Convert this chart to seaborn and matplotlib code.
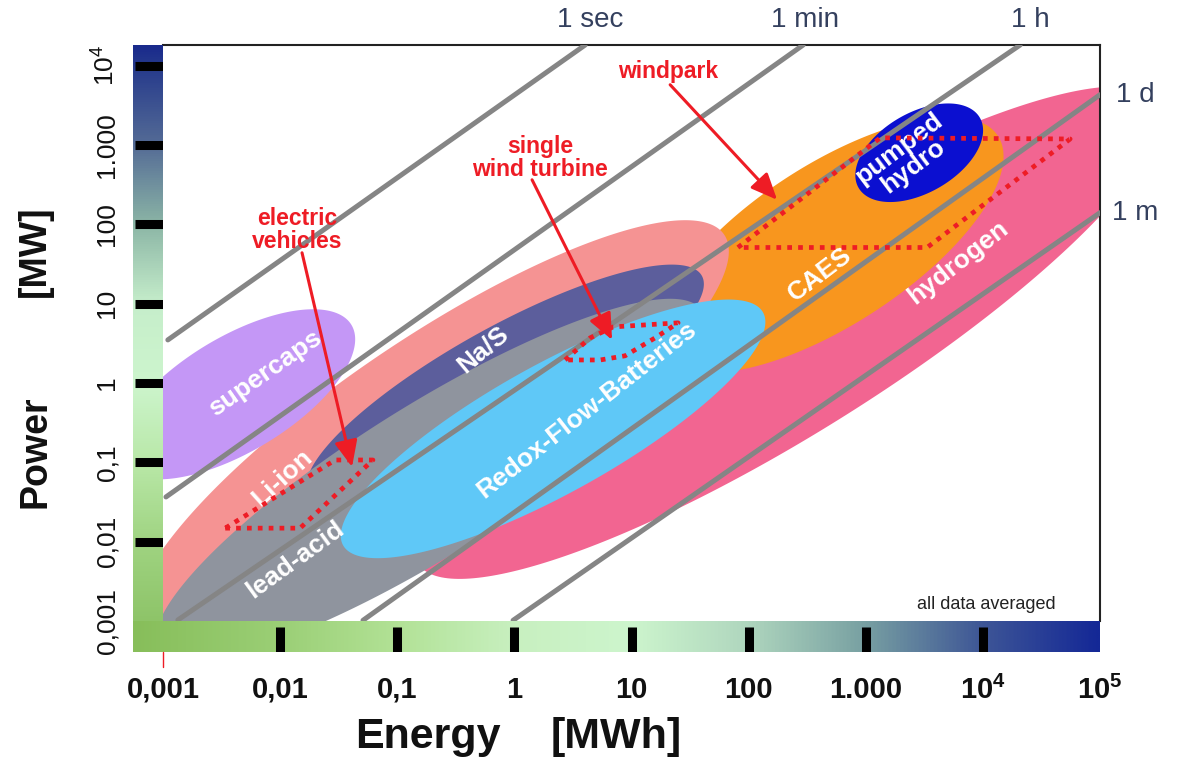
import numpy as np
import matplotlib
matplotlib.use('Agg')
import matplotlib.pyplot as plt
from matplotlib.colors import LinearSegmentedColormap
from matplotlib.lines import Line2D
import seaborn as sns

# storage technologies: centre of each region (energy MWh, power MW),
# half length / half width of the region in decades, tilt in degrees
tech_names = ['hydrogen', 'CAES', 'Li-ion', 'Na/S', 'lead-acid',
              'Redox-Flow-Batteries', 'pumped\nhydro', 'supercaps']
tech_energy = [215, 497, 0.198, 0.833, 0.19, 2.14, 2860, 0.0042]
tech_power = [4.3, 55, 0.242, 0.946, 0.06, 0.264, 798, 0.72]
tech_length = [3.72, 1.708, 3.01, 1.921, 2.733, 2.05, 0.598, 1.15]
tech_width = [0.86, 0.683, 0.794, 0.495, 0.64, 0.55, 0.342, 0.49]
tech_tilt = [32, 33, 34, 29, 32, 29, 30, 31]
tech_colors = ['#f26591', '#f8961e', '#f59393', '#5c5e9c', '#8f949e',
               '#5fc8f7', '#0b0fd0', '#c497f6']

# discharge time lines (start / end in MWh, MW)
time_labels = ['1 sec', '1 min', '1 h', '1 d', '1 m']
line_e_start = [0.0011, 0.00106, 0.00134, 0.051, 0.975]
line_p_start = [3.49, 0.0366, 0.00103, 0.00102, 0.00102]
line_e_end = [4.02, 292, 20800, 1e5, 1e5]
line_p_end = [18200, 18200, 18200, 4300, 140]

# application ranges (dotted outlines)
ev_energy = [0.0034, 0.0148, 0.062, 0.0295]
ev_power = [0.0148, 0.0148, 0.107, 0.107]
turbine_energy = [2.71, 4.43, 6.97, 25.0, 15.9, 8.81, 5.40]
turbine_power = [1.95, 3.70, 5.09, 5.73, 3.70, 2.20, 1.95]
windpark_energy = [81, 1330, 55600, 3340]
windpark_power = [51, 1230, 1190, 51]

x_ticklabels = ['0,001', '0,01', '0,1', '1', '10', '100', '1.000',
                r'$\mathbf{10^4}$', r'$\mathbf{10^5}$']
y_ticklabels = ['0,001', '0,01', '0,1', '1', '10', '100', '1.000',
                r'$\mathrm{10^4}$']

sns.set_theme(style='white')
plt.rcParams['font.family'] = ['Liberation Sans', 'DejaVu Sans']
plt.rcParams['mathtext.fontset'] = 'custom'
plt.rcParams['mathtext.rm'] = 'Liberation Sans'
plt.rcParams['mathtext.bf'] = 'Liberation Sans:bold'
plt.rcParams['mathtext.it'] = 'Liberation Sans:italic'

W, H = 1177, 760
def box(x0, y0, x1, y1):
    return [x0 / W, 1 - y1 / H, (x1 - x0) / W, (y1 - y0) / H]

fig = plt.figure(figsize=(W / 100, H / 100), dpi=100)
ax = fig.add_axes(box(163, 45, 1100, 621))
YMAX = 4.26
ax.set_xlim(-3, 5)
ax.set_ylim(-3, YMAX)
px_x = ax.bbox.width / 8
px_y = ax.bbox.height / (YMAX + 3)
ratio = px_x / px_y

red = '#ee1c25'
lg = np.log10

def region(e, p, a, b, tilt):
    t = np.linspace(0, 2 * np.pi, 300)
    th = np.deg2rad(tilt)
    dx = a * np.cos(t) * np.cos(th) - b * np.sin(t) * np.sin(th)
    dy = a * np.cos(t) * np.sin(th) + b * np.sin(t) * np.cos(th)
    return lg(e) + dx, lg(p) + dy * ratio

for i in range(len(tech_names)):
    xs, ys = region(tech_energy[i], tech_power[i], tech_length[i],
                    tech_width[i], tech_tilt[i])
    ax.fill(xs, ys, color=tech_colors[i], lw=0, zorder=2 + i)

# discharge time lines
for i in range(len(time_labels)):
    sns.lineplot(x=lg([line_e_start[i], line_e_end[i]]),
                 y=lg([line_p_start[i], line_p_end[i]]),
                 color='#858585', lw=3.6, ax=ax, legend=False, zorder=11)

# time labels outside the frame
label_pos = [(0.646, 4.579), (2.482, 4.579), (4.404, 4.579),
             (5.30, 3.633), (5.30, 2.145)]
for lab, (lx, ly) in zip(time_labels, label_pos):
    ax.text(lx, ly, lab, fontsize=20, color='#34405e', ha='center',
            va='center', clip_on=False)

# technology labels
tech_label_pos = [(3.789, 1.514, 38), (2.611, 1.363, 37), (-1.984, -1.197, 42),
                  (-0.267, 0.417, 40), (-1.873, -2.231, 36), (0.621, -0.339, 38),
                  (3.345, 2.839, 37), (-2.129, 0.127, 35)]
for name, (lx, ly, rot) in zip(tech_names, tech_label_pos):
    ax.text(lx, ly, name, fontsize=19, fontweight='bold', color='white',
            rotation=rot, ha='center', va='center', linespacing=0.92,
            rotation_mode='anchor', zorder=13)

# dotted application ranges
for ee, pp in [(ev_energy, ev_power), (turbine_energy, turbine_power),
               (windpark_energy, windpark_power)]:
    xs = lg(ee + ee[:1])
    ys = lg(pp + pp[:1])
    ax.plot(xs, ys, color=red, lw=3.4, ls=(0, (1, 1.3)), zorder=14)

# annotations with arrows
notes = [('electric\nvehicles', (-1.856, 1.93), (-1.813, 1.641), (-1.386, -1.058)),
         ('single\nwind turbine', (0.219, 2.839), (0.151, 2.561), (0.834, 0.543)),
         ('windpark', (1.313, 3.923), (1.33, 3.759), (2.243, 2.309))]
for txt, tpos, start, tip in notes:
    ax.text(tpos[0], tpos[1], txt, color=red, fontsize=16.5, fontweight='bold',
            ha='center', va='center', linespacing=1.0, zorder=15)
    ax.annotate('', xy=tip, xytext=start, zorder=15,
                arrowprops=dict(arrowstyle='-|>,head_length=0.8,head_width=0.35',
                                color=red, lw=2.2, mutation_scale=20,
                                shrinkA=0, shrinkB=0))

ax.text(4.028, -2.786, 'all data averaged', fontsize=13, color='#222222',
        ha='center', va='center', zorder=15)

ax.set_xticks([])
ax.set_yticks([])
for side in ['left', 'bottom']:
    ax.spines[side].set_visible(False)
for side in ['top', 'right']:
    ax.spines[side].set_color('#222222')
    ax.spines[side].set_linewidth(1.5)

# colour strips along the axes
y_lo = -3 - 31 / px_y
x_lo = -3 - 30 / px_x

def make_cmap(nodes, lo, hi):
    return LinearSegmentedColormap.from_list(
        'strip', [((v - lo) / (hi - lo), np.array(c) / 255) for v, c in nodes])

v_nodes = [(y_lo, (135, 190, 95)), (-2, (160, 212, 130)), (-1, (185, 232, 168)),
           (0, (205, 245, 205)), (1, (198, 238, 203)), (2, (140, 182, 166)),
           (3, (85, 108, 150)), (4, (38, 58, 140)), (YMAX, (25, 42, 140))]
h_nodes = [(x_lo, (135, 190, 90)), (-2, (155, 207, 118)), (-1, (178, 226, 150)),
           (0, (200, 240, 192)), (1, (205, 245, 205)), (2, (175, 214, 190)),
           (3, (120, 160, 162)), (4, (62, 86, 150)), (5, (20, 40, 150))]

ax_l = fig.add_axes(box(133, 45, 163, 652))
grad = np.linspace(0, 1, 512)
ax_l.imshow(grad[:, None], extent=[0, 1, y_lo, YMAX], origin='lower',
            aspect='auto', cmap=make_cmap(v_nodes, y_lo, YMAX))
ax_l.hlines(range(-2, 5), 0.07, 1, color='black', lw=6.5)
ax_l.set_xlim(0, 1)
ax_l.set_ylim(y_lo, YMAX)
ax_l.set_xticks([])
ax_l.set_yticks(range(-3, 5))
ax_l.set_yticklabels(y_ticklabels, fontsize=19, color='#111111')
ax_l.tick_params(axis='y', which='major', length=0, pad=10, left=True, labelleft=True)
plt.setp(ax_l.get_yticklabels(), rotation=90, va='center')
for s in ax_l.spines.values():
    s.set_visible(False)

ax_b = fig.add_axes(box(133, 621, 1100, 652))
ax_b.imshow(grad[None, :], extent=[x_lo, 5, 0, 1], origin='lower',
            aspect='auto', cmap=make_cmap(h_nodes, x_lo, 5))
ax_b.vlines(range(-2, 5), 0, 0.82, color='black', lw=6.5)
ax_b.set_xlim(x_lo, 5)
ax_b.set_ylim(0, 1)
ax_b.set_yticks([])
ax_b.set_xticks(range(-3, 6))
ax_b.set_xticklabels(x_ticklabels, fontsize=21, fontweight='bold', color='#111111')
ax_b.tick_params(axis='x', which='major', length=0, pad=17, bottom=True, labelbottom=True)
for s in ax_b.spines.values():
    s.set_visible(False)

fig.add_artist(Line2D([163 / W, 163 / W], [1 - 652 / H, 1 - 667 / H],
                      color=red, lw=1))

# axis titles
fig.text(428 / W, 1 - 737 / H, 'Energy', fontsize=31, fontweight='bold',
         ha='center', va='center', color='#111111')
fig.text(616 / W, 1 - 737 / H, '[MWh]', fontsize=31, fontweight='bold',
         ha='center', va='center', color='#111111')
fig.text(35 / W, 1 - 452 / H, 'Power', fontsize=27, fontweight='bold',
         ha='center', va='center', rotation=90, color='#111111')
fig.text(35 / W, 1 - 251 / H, '[MW]', fontsize=27, fontweight='bold',
         ha='center', va='center', rotation=90, color='#111111')

fig.savefig('out.png', dpi=100)
